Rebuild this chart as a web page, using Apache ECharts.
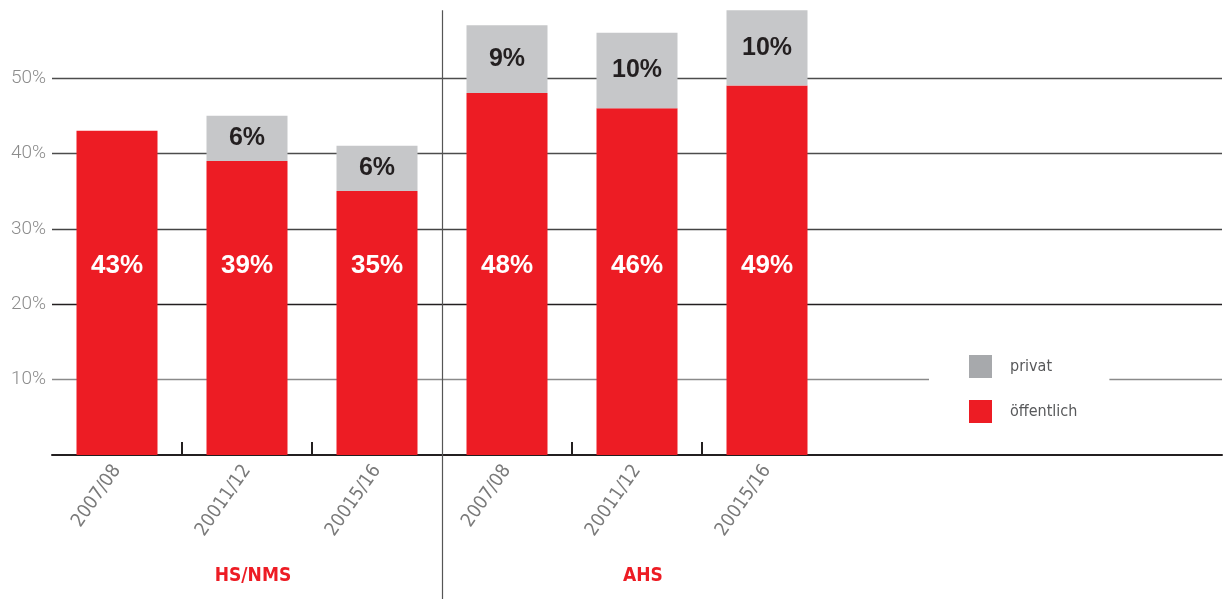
<!DOCTYPE html>
<html>
<head>
<meta charset="utf-8">
<title>Öffentlich / privat</title>
<script src="https://cdn.jsdelivr.net/npm/echarts@6/dist/echarts.min.js"></script>
<style>
  html, body { margin: 0; padding: 0; background: #fff; }
  #chart { width: 1225px; height: 599px; }
</style>
</head>
<body>
<div id="chart"></div>
<script>
// School types and survey periods
const groups = ['HS/NMS', 'AHS'];
const periods = ['2007/08', '20011/12', '20015/16'];

// Shares in percent, in order HS/NMS x3, then AHS x3
const publicShare = [43, 39, 35, 48, 46, 49];
const privateShare = [null, 6, 6, 9, 10, 10];

// Y tick labels
const yTicks = [10, 20, 30, 40, 50];

const RED = '#ed1c24';
const GREY = '#c6c7c9';
const GREY_LEGEND = '#a7a9ac';
const NARROW = "'Liberation Sans Narrow', 'DejaVu Sans Condensed', 'Roboto', sans-serif";
const BOLD = "'Liberation Sans', 'Roboto', sans-serif";

const categories = groups.flatMap(g => periods.map(p => g + '|' + p));

const chart = echarts.init(document.getElementById('chart'), null, { renderer: 'canvas' });

chart.setOption({
  animation: false,
  backgroundColor: '#fff',
  grid: { left: 52, right: 3, top: 2.6, bottom: 144, containLabel: false },
  legend: {
    orient: 'vertical',
    left: 929,
    top: 335,
    padding: [20, 32, 17, 40],
    backgroundColor: '#fff',
    itemWidth: 23,
    itemHeight: 23,
    itemGap: 22,
    icon: 'rect',
    textStyle: { fontFamily: NARROW, fontSize: 16, color: '#58595b', padding: [0, 0, 0, 13] },
    data: [
      { name: 'privat', itemStyle: { color: GREY_LEGEND } },
      { name: 'öffentlich', itemStyle: { color: RED } }
    ]
  },
  xAxis: {
    type: 'category',
    data: categories,
    max: 8,
    axisLine: { show: true, lineStyle: { color: '#231f20', width: 2 } },
    axisTick: { show: false },
    axisLabel: {
      interval: 0,
      rotate: 55,
      margin: 12,
      color: '#7a7a7a',
      fontFamily: NARROW,
      fontSize: 19,
      formatter: v => (v ? String(v).split('|')[1] : '')
    },
    splitLine: { show: false }
  },
  yAxis: {
    type: 'value',
    min: 0,
    max: 60,
    interval: 10,
    axisLine: { show: false },
    axisTick: { show: false },
    axisLabel: {
      margin: 6,
      color: '#8c8c8c',
      fontFamily: "'Roboto', 'Liberation Sans', sans-serif",
      fontWeight: 300,
      fontSize: 19,
      formatter: v => (yTicks.includes(v) ? v + '%' : '')
    },
    splitLine: {
      show: true,
      showMinLine: false,
      showMaxLine: false,
      lineStyle: { color: ['#8a8a8a', '#231f20', '#444', '#4d4d4d', '#4d4d4d'], width: 1.3 }
    }
  },
  series: [
    {
      name: 'öffentlich',
      type: 'bar',
      stack: 'share',
      barWidth: 81,
      data: publicShare,
      itemStyle: { color: RED },
      label: {
        show: true,
        position: 'insideBottom',
        distance: 176,
        color: '#fff',
        fontFamily: BOLD,
        fontWeight: 'bold',
        fontSize: 26,
        formatter: p => p.value + '%'
      }
    },
    {
      name: 'privat',
      type: 'bar',
      stack: 'share',
      barWidth: 81,
      data: privateShare,
      itemStyle: { color: GREY },
      label: {
        show: true,
        position: 'inside',
        color: '#231f20',
        fontFamily: BOLD,
        fontWeight: 'bold',
        fontSize: 25,
        formatter: p => (p.value == null ? '' : p.value + '%')
      }
    }
  ]
});

// Divider between the two school types, ticks between periods, group captions
function drawDecorations() {
  const n = periods.length;
  const px = i => chart.convertToPixel({ xAxisIndex: 0 }, categories[i]);
  const py = v => chart.convertToPixel({ yAxisIndex: 0 }, v);
  const base = py(0);
  const between = i => Math.round((px(i - 1) + px(i)) / 2);

  const divX = between(n) + 0.5;
  const peak = Math.max(...publicShare.map((v, i) => v + (privateShare[i] || 0)));
  const yTop = py(peak);
  const H = chart.getHeight();

  const ticks = [];
  groups.forEach((g, gi) => {
    for (let k = 1; k < n; k++) {
      const x = between(gi * n + k);
      ticks.push({
        type: 'line',
        z: 10,
        shape: { x1: x, y1: base - 13, x2: x, y2: base },
        style: { stroke: '#231f20', lineWidth: 2 }
      });
    }
  });

  const captions = groups.map((g, gi) => ({
    type: 'text',
    x: px(gi * n + Math.floor(n / 2)) + 6,
    y: 576,
    z: 10,
    style: {
      text: g,
      fill: RED,
      font: 'bold 19px ' + NARROW,
      align: 'center',
      verticalAlign: 'middle'
    }
  }));

  chart.setOption({
    graphic: [
      {
        type: 'line',
        z: 10,
        shape: { x1: divX, y1: yTop, x2: divX, y2: H },
        style: { stroke: '#555', lineWidth: 1.2 }
      },
      ...ticks,
      ...captions
    ]
  });
}
drawDecorations();
</script>
</body>
</html>
